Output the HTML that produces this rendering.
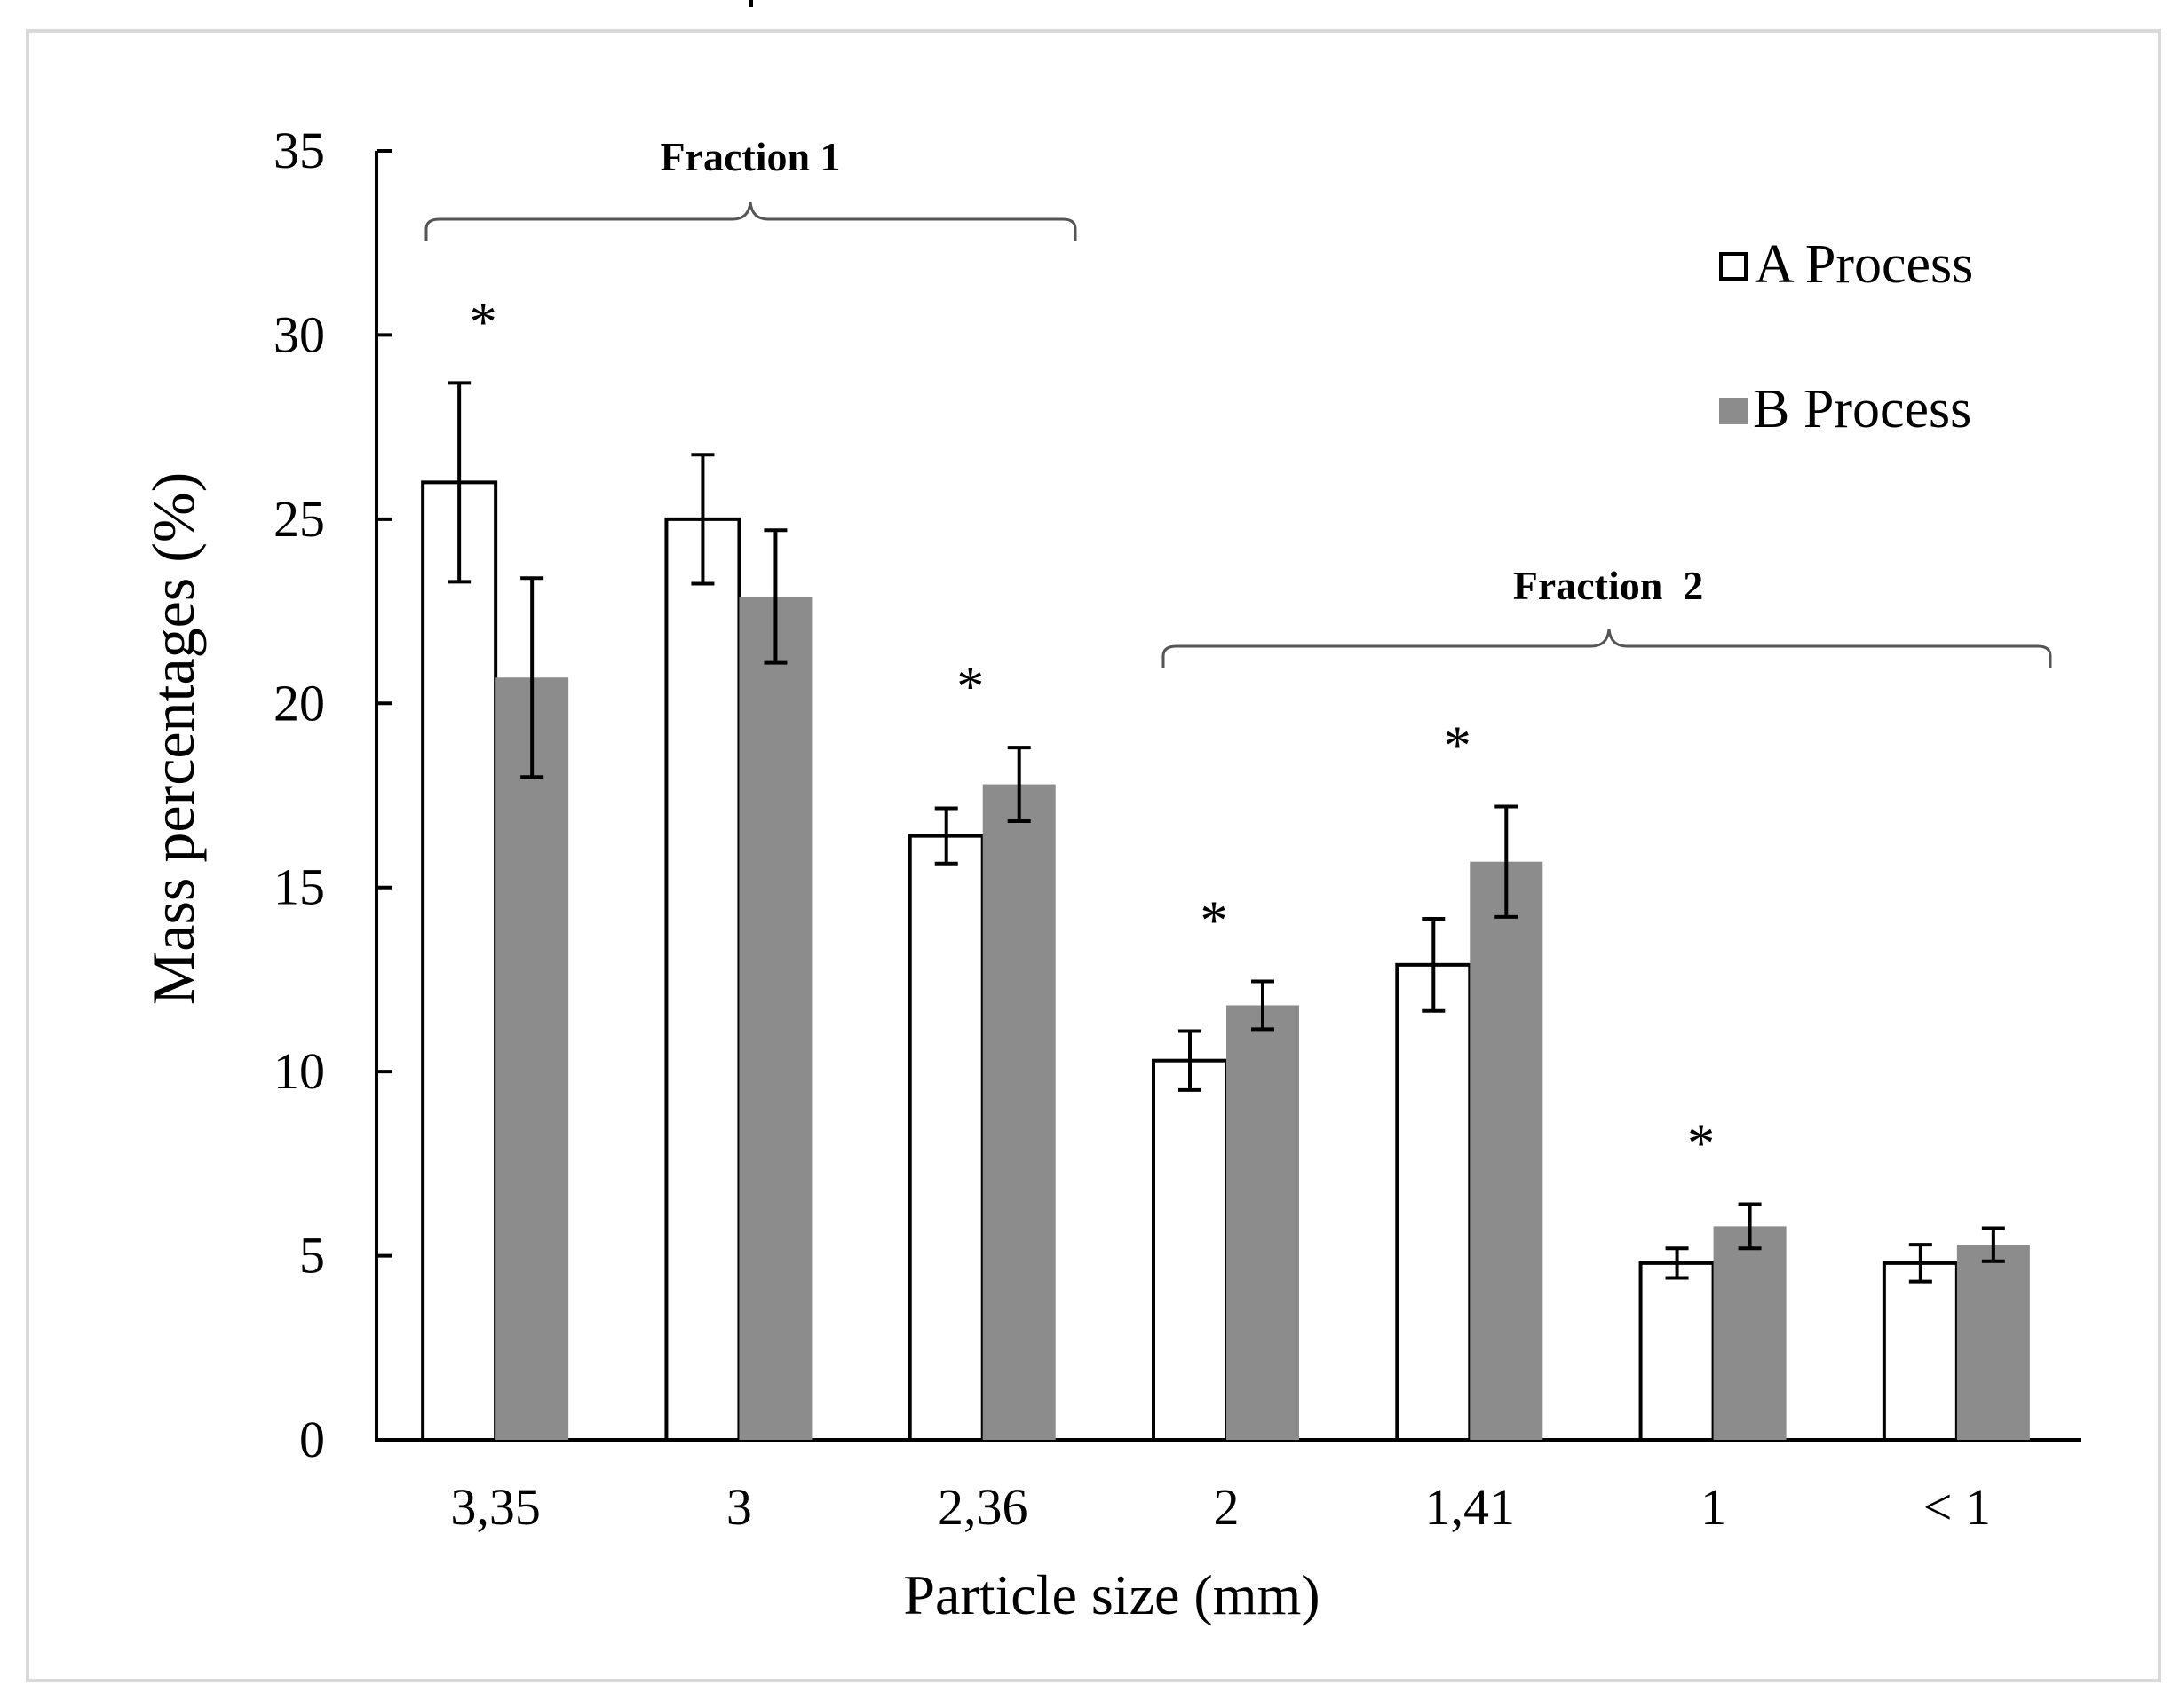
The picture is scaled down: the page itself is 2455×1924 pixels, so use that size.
<!DOCTYPE html>
<html><head><meta charset="utf-8"><style>
html,body{margin:0;padding:0;background:#fff;}
svg{display:block;font-family:"Liberation Serif",serif;}
</style></head><body>
<svg id="chart" width="2455" height="1924" viewBox="0 0 2455 1924" xmlns="http://www.w3.org/2000/svg">
<rect x="31" y="35" width="2401" height="1858" fill="#fff" stroke="#d9d9d9" stroke-width="4"/>
<rect x="843" y="0" width="5" height="8" fill="#000"/>
<g id="axes"></g>
<g id="bars"></g>
<g id="annotations"></g>
<text transform="translate(218,832) rotate(-90)" text-anchor="middle" font-size="68">Mass percentages (%)</text>
<text x="1252" y="1818" text-anchor="middle" font-size="64">Particle size (mm)</text>
<g>
<rect x="1938" y="286" width="28" height="28" fill="#fff" stroke="#000" stroke-width="4"/>
<text x="1976" y="318" font-size="62">A Process</text>
<rect x="1936" y="448" width="32" height="30" fill="#8c8c8c"/>
<text x="1974" y="481" font-size="62">B Process</text>
</g>
<g>
<text x="845" y="192" text-anchor="middle" font-size="46" font-weight="bold">Fraction 1</text>
<path d="M480,271 L480,258 Q480,247 495,247 L825,247 Q843,247 845,228 Q847,247 865,247 L1197,247 Q1211,247 1211,258 L1211,271" fill="none" stroke="#555" stroke-width="3"/>
</g>
<g>
<text x="1811" y="675" text-anchor="middle" font-size="46" font-weight="bold" xml:space="preserve">Fraction  2</text>
<path d="M1310,752 L1310,739 Q1310,728 1325,728 L1792,728 Q1810,728 1812,709 Q1814,728 1832,728 L2295,728 Q2309,728 2309,739 L2309,752" fill="none" stroke="#555" stroke-width="3"/>
</g>
</svg>
<script>
const categories = ["3,35","3","2,36","2","1,41","1","< 1"];
const seriesA = [26.0, 25.0, 16.4, 10.3, 12.9, 4.8, 4.8];
const seriesB = [20.7, 22.9, 17.8, 11.8, 15.7, 5.8, 5.3];
const errA = [2.7, 1.75, 0.75, 0.8, 1.25, 0.4, 0.5];
const errB = [2.7, 1.8, 1.0, 0.65, 1.5, 0.6, 0.45];
const significant = [true, false, true, true, true, true, false];
const yTicks = [0, 5, 10, 15, 20, 25, 30, 35];

const NS = "http://www.w3.org/2000/svg";
const X0 = 424, X1 = 2344, Y0 = 1622, Y35 = 170;
const yScale = v => Y0 - (v / 35) * (Y0 - Y35);
const step = (X1 - X0) / categories.length;
const xCenter = i => X0 + step * (i + 0.5) - 3;
const BW = 82;
function mk(tag, attrs, parent) {
  const e = document.createElementNS(NS, tag);
  for (const k in attrs) e.setAttribute(k, attrs[k]);
  parent.appendChild(e);
  return e;
}
const axes = document.getElementById("axes");
const bars = document.getElementById("bars");
const ann = document.getElementById("annotations");

const yAxis = mk("line", {x1: X0, y1: Y35, x2: X0, y2: Y0, stroke: "#000", "stroke-width": 4}, axes);


const xAxis = mk("line", {x1: X0 - 2, y1: Y0, x2: X1, y2: Y0, stroke: "#000", "stroke-width": 4}, axes);



yTicks.forEach(t => {
  const y = yScale(t);
  const tk = mk("line", {x1: X0, y1: y, x2: X0 + 18, y2: y, stroke: "#000", "stroke-width": 4}, axes);
  
  
  const lb = mk("text", {x: 366, y: y + 19, "text-anchor": "end", "font-size": 58}, axes);
  lb.textContent = t;
  
  
});

function errBar(cx, v, e) {
  const g = mk("g", {}, bars);
  
  
  const t = yScale(v + e), b = yScale(v - e);
  mk("line", {x1: cx, y1: t, x2: cx, y2: b, stroke: "#000", "stroke-width": 4}, g);
  mk("line", {x1: cx - 13, y1: t, x2: cx + 13, y2: t, stroke: "#000", "stroke-width": 4}, g);
  mk("line", {x1: cx - 13, y1: b, x2: cx + 13, y2: b, stroke: "#000", "stroke-width": 4}, g);
}

categories.forEach((c, i) => {
  const cx = xCenter(i);
  const ba = mk("rect", {x: cx - BW, y: yScale(seriesA[i]), width: BW, height: Y0 - yScale(seriesA[i]), fill: "#fff", stroke: "#000", "stroke-width": 4}, bars);
  
  
  const bb = mk("rect", {x: cx, y: yScale(seriesB[i]), width: BW, height: Y0 - yScale(seriesB[i]), fill: "#8c8c8c"}, bars);
  
  
  errBar(cx - BW / 2, seriesA[i], errA[i]);
  errBar(cx + BW / 2, seriesB[i], errB[i]);
  const lb = mk("text", {x: cx, y: 1717, "text-anchor": "middle", "font-size": 58}, axes);
  lb.textContent = c;
  
  
  if (significant[i]) {
    const top = Math.max(seriesA[i] + errA[i], seriesB[i] + errB[i]);
    const st = mk("text", {x: cx - 14, y: yScale(top) - 48, "text-anchor": "middle", "font-size": 62}, ann);
    st.textContent = "*";
    
    
  }
});
</script>
</body></html>
